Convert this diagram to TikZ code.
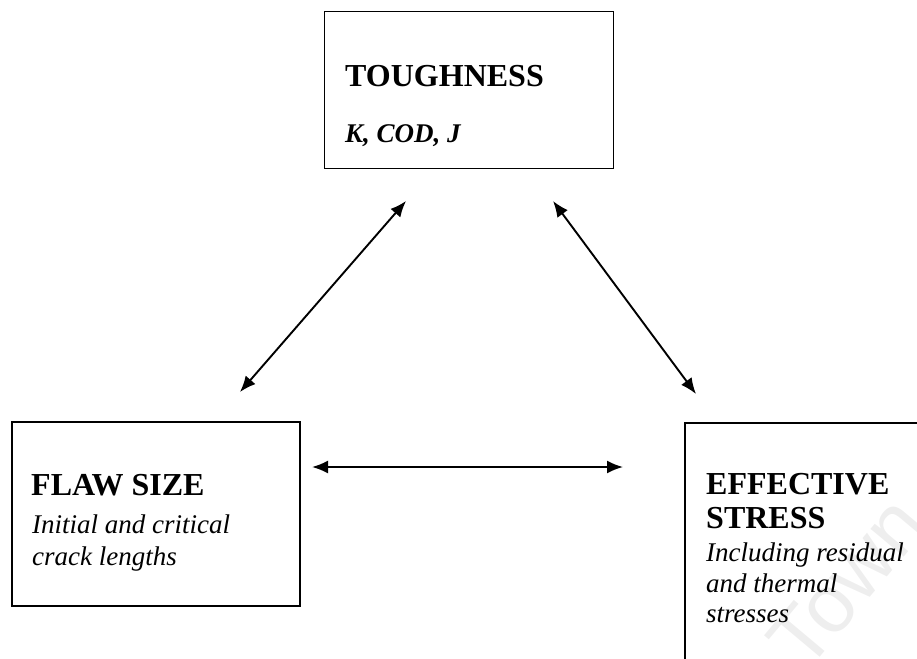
\documentclass[tikz,border=0pt]{standalone}
\usepackage{fontspec}
\setmainfont{Liberation Serif}
\newfontfamily\marksans{Liberation Sans}
\usetikzlibrary{arrows.meta}

\tikzset{
  box/.style={draw,line width=1.8pt,inner sep=0pt},
  head/.style={font=\fontsize{32}{36}\selectfont\bfseries,anchor=base west,inner sep=0pt},
  sub/.style={font=\fontsize{27}{31}\selectfont\itshape,anchor=base west,inner sep=0pt},
  link/.style={line width=1.9pt,{Latex[length=16pt,width=13pt]}-{Latex[length=16pt,width=13pt]}}
}

\begin{document}
\begin{tikzpicture}[x=1pt,y=-1pt]
\useasboundingbox (0,0) rectangle (917,658);
\clip (0,0) rectangle (917,658);

% watermark
\node[font=\marksans\fontsize{82}{82}\selectfont,text=gray!13,rotate=50] (mark) at (847,582) {Town};

% Boxes
\node[box,minimum width=289pt,minimum height=157pt] (tough) at (469,90) {};
\node[box,minimum width=288pt,minimum height=184pt] (flaw) at (156,514) {};
\node[box,minimum width=275pt,minimum height=277pt] (stress) at (822.5,561.5) {};

% Toughness
\node[head] (toughT) at (345,87) {TOUGHNESS};
\node[sub,font=\fontsize{27}{31}\selectfont\bfseries\itshape] (toughP) at (345,142) {K, COD, J};

% Flaw size
\node[head] (flawT) at (31,495) {FLAW SIZE};
\node[sub] (flawA) at (32,533) {Initial and critical};
\node[sub] (flawB) at (32,565) {crack lengths};

% Effective stress
\node[head] (stressT) at (706,494) {EFFECTIVE};
\node[head] (stressU) at (706,528) {STRESS};
\node[sub] (stressA) at (706,561) {Including residual};
\node[sub] (stressB) at (706,592) {and thermal};
\node[sub] (stressC) at (706,622) {stresses};

% Arrows
\coordinate (ft) at (240,392);
\coordinate (tf) at (406,201);
\coordinate (tr) at (553,201);
\coordinate (st) at (696,394);
\coordinate (fr) at (312,467);
\coordinate (sl) at (623,467);
\draw[link] (ft) -- (tf);
\draw[link] (tr) -- (st);
\draw[link] (fr) -- (sl);
\end{tikzpicture}
\end{document}
